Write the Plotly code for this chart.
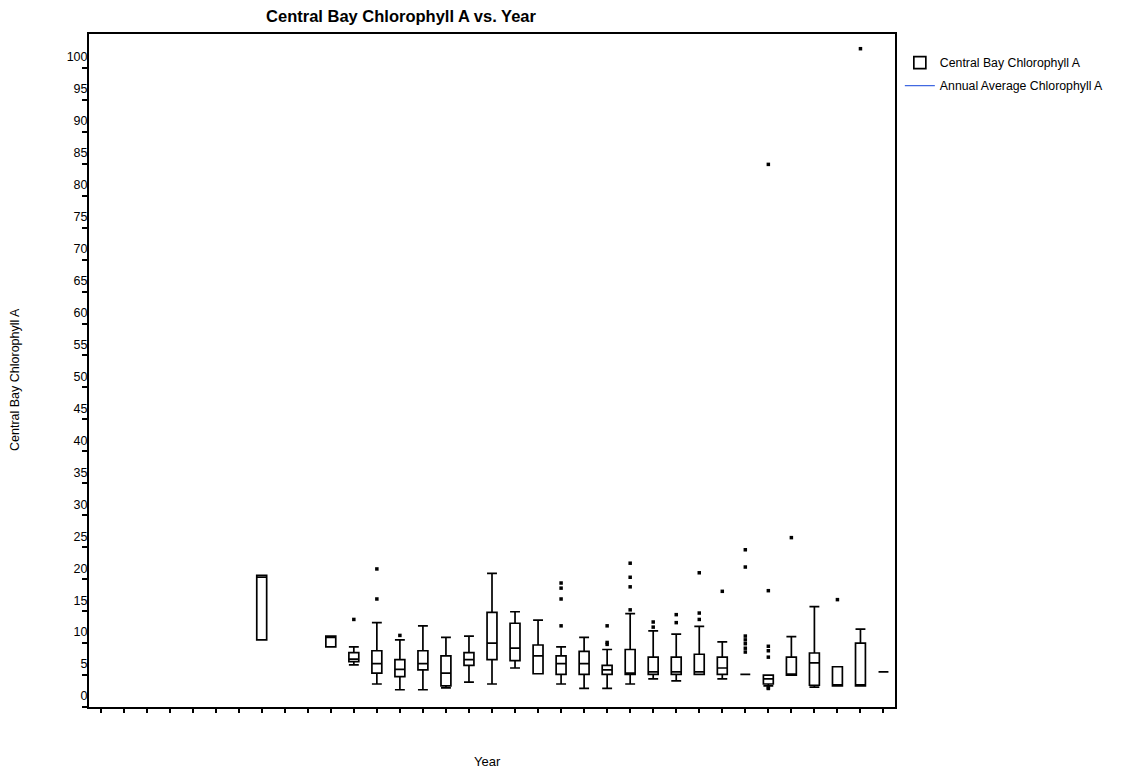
import plotly.graph_objects as go

# ---- data ----
all_years = list(range(1977, 2012))
box_years = [1984, 1987, 1988, 1989, 1990, 1991, 1992, 1993, 1994, 1995, 1996, 1997,
             1998, 1999, 2000, 2001, 2002, 2003, 2004, 2005, 2006, 2007, 2008, 2009,
             2010, 2011]
q1 = [10.5, 9.4, 7.1, 5.3, 4.75, 5.8, 3.3, 6.5, 7.4, 7.25, 5.2, 5.1,
      5.1, 5.1, 5.1, 5.1, 5.1, 5.1, 5.1, 5.1, 3.6, 5.0, 3.4, 3.3,
      3.3, 5.5]
median = [20.3, 10.9, 7.5, 6.8, 5.9, 6.8, 5.3, 7.4, 10.0, 9.2, 8.0, 6.8,
          6.8, 5.8, 5.3, 5.5, 5.5, 5.5, 6.1, 5.1, 4.4, 5.0, 6.9, 3.3,
          3.3, 5.5]
q3 = [20.6, 11.1, 8.5, 8.8, 7.4, 8.8, 8.0, 8.5, 14.8, 13.1, 9.7, 8.0,
      8.7, 6.5, 9.0, 7.8, 7.8, 8.25, 7.8, 5.1, 5.0, 7.8, 8.45, 6.3,
      10.0, 5.5]
lower = [10.5, 9.4, 6.6, 3.6, 2.7, 2.7, 3.0, 3.9, 3.6, 6.1, 5.2, 3.6,
         2.9, 2.9, 3.6, 4.4, 4.1, 5.1, 4.4, 5.1, 3.3, 5.0, 3.1, 3.3,
         3.3, 5.5]
upper = [20.6, 11.1, 9.4, 13.2, 10.5, 12.7, 10.9, 11.1, 20.9, 14.9, 13.6, 9.4,
         10.9, 9.0, 14.6, 11.9, 11.4, 12.6, 10.2, 5.1, 5.0, 11.0, 15.7, 6.3,
         12.2, 5.5]

outlier_years = [1988, 1989, 1989, 1990,
                 1997, 1997, 1997, 1997,
                 1999, 1999, 1999,
                 2000, 2000, 2000, 2000,
                 2001, 2001, 2002, 2002,
                 2003, 2003, 2003, 2004,
                 2005, 2005, 2005, 2005, 2005, 2005, 2005,
                 2006, 2006, 2006, 2006, 2006, 2006, 2006,
                 2007, 2009, 2010]
outlier_values = [13.7, 21.6, 16.9, 11.2,
                  19.4, 18.6, 16.9, 12.7,
                  12.7, 10.1, 9.8,
                  22.5, 20.3, 18.8, 15.2,
                  13.3, 12.5, 14.45, 13.2,
                  21.0, 14.7, 13.7, 18.1,
                  24.6, 21.9, 11.1, 10.5, 9.9, 9.2, 8.6,
                  84.9, 18.2, 9.5, 8.8, 7.8, 3.0, 2.9,
                  26.5, 16.8, 103.0]

# the annual-average series shows only in the legend of the reference
annual_avg_years = [None]
annual_avg_values = [None]

y_ticks = list(range(0, 105, 5))

FONT = "Arial, Liberation Sans, sans-serif"

fig = go.Figure()

fig.add_trace(go.Box(
    x=box_years, q1=q1, median=median, q3=q3,
    lowerfence=lower, upperfence=upper,
    name="Central Bay Chlorophyll A",
    width=0.43, whiskerwidth=1,
    line=dict(color="black", width=1.7),
    fillcolor="rgba(255,255,255,0)",
    boxpoints=False,
    legendgroup="a",
))

fig.add_trace(go.Scatter(
    x=outlier_years, y=outlier_values, mode="markers",
    marker=dict(symbol="square", size=3.5, color="black"),
    showlegend=False, hoverinfo="x+y",
))

fig.add_trace(go.Scatter(
    x=annual_avg_years, y=annual_avg_values, mode="lines",
    line=dict(color="#4169e1", width=1.2),
    name="Annual Average Chlorophyll A",
    legendgroup="b", showlegend=True,
))

# page has an 8px body margin: figure coordinates are page coordinates - 8
fig.update_layout(
    width=1132, height=771,
    margin=dict(l=81, r=245, t=26, b=72),
    paper_bgcolor="white", plot_bgcolor="white",
    font=dict(family=FONT, size=12, color="black"),
    showlegend=True,
    legend=dict(x=1.006, y=0.979, xanchor="left", yanchor="top",
                font=dict(size=12.3), tracegroupgap=4,
                traceorder="grouped", bgcolor="rgba(0,0,0,0)"),
    title=dict(text="<b>Central Bay Chlorophyll A vs. Year</b>",
               x=393 / 1132, xanchor="center", xref="container",
               y=1 - 8 / 771, yanchor="middle", yref="container",
               font=dict(size=16.5, family=FONT)),
)

fig.update_xaxes(
    range=[1976.5, 2011.5], tickmode="array", tickvals=all_years,
    showticklabels=False, ticks="outside", ticklen=4, tickwidth=1.5,
    tickcolor="black", showline=True, linecolor="black", linewidth=1.5,
    mirror=True, showgrid=False, zeroline=False,
)
fig.update_yaxes(
    range=[0, 105.3], tickmode="array", tickvals=y_ticks,
    ticktext=[str(v) for v in y_ticks],
    ticks="outside", ticklen=5, tickwidth=1.5, tickcolor="black",
    tickfont=dict(size=12.5, family=FONT),
    ticklabelshift=-11, ticklabelstandoff=-8,
    showline=True, linecolor="black", linewidth=2,
    mirror=True, showgrid=False, zeroline=False,
)

fig.add_annotation(text="Central Bay Chlorophyll A", textangle=-90,
                   xref="paper", yref="paper", x=(15 - 89) / 806,
                   y=(707 - 380) / 673, xanchor="center", yanchor="middle",
                   showarrow=False, font=dict(size=12.5, family=FONT))
fig.add_annotation(text="Year", xref="paper", yref="paper",
                   x=(487 - 89) / 806, y=(707 - 761) / 673,
                   xanchor="center", yanchor="middle",
                   showarrow=False, font=dict(size=13, family=FONT))

fig.write_html("out.html")
